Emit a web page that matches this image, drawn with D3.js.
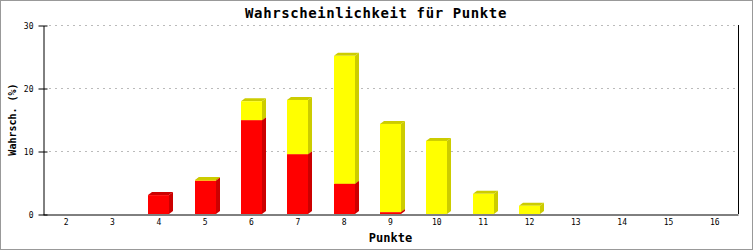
<!DOCTYPE html>
<html>
<head>
<meta charset="utf-8">
<script src="https://cdn.jsdelivr.net/npm/d3@7"></script>
<style>
  body { margin: 0; background: #fff; }
  svg { display: block; }
  text { font-family: "DejaVu Sans Mono", monospace; }
</style>
</head>
<body>
<div id="chart"></div>
<script>
// Points (x categories)
const punkte = ["2", "3", "4", "5", "6", "7", "8", "9", "10", "11", "12", "13", "14", "15", "16"];
// red series (lower part of each stack)
const rotWerte = [0, 0, 3.0, 5.3, 14.9, 9.5, 4.8, 0.3, 0, 0, 0, 0, 0, 0, 0];
// yellow series (upper part)
const gelbWerte = [0, 0, 0, 0.1, 3.0, 8.6, 20.3, 14.0, 11.6, 3.2, 1.3, 0, 0, 0, 0];
const yTicks = [0, 10, 20, 30];

const width = 753;
const height = 250;
const margin = { top: 25, right: 15, bottom: 36, left: 43 };
const depth = { dx: 4, dy: 3 };
const barWidth = 21;

const series = [
    { name: "rot", values: rotWerte, front: "#ff0000", dark: "#cc0000" },
    { name: "gelb", values: gelbWerte, front: "#ffff00", dark: "#cccc00" }
];

const svg = d3.select("#chart")
    .append("svg")
    .attr("width", width)
    .attr("height", height);

// outer frame
svg.append("rect")
    .attr("x", 0.5).attr("y", 0.5)
    .attr("width", width - 1).attr("height", height - 1)
    .attr("fill", "#fff")
    .attr("stroke", "#999");

const x = d3.scaleBand()
    .domain(punkte)
    .range([margin.left, width - margin.right]);

const y = d3.scaleLinear()
    .domain([0, 30])
    .range([height - margin.bottom, margin.top]);

// grid lines
svg.append("g")
    .selectAll("line")
    .data(yTicks.filter(d => d > 0))
    .enter()
    .append("line")
    .attr("x1", margin.left + 6)
    .attr("x2", width - margin.right - 1)
    .attr("y1", d => Math.round(y(d)) + 0.5)
    .attr("y2", d => Math.round(y(d)) + 0.5)
    .attr("stroke", "#bbb")
    .attr("stroke-dasharray", "2,4");

// stacked 3d bars
const bars = svg.append("g");
punkte.forEach((p, i) => {
    let base = 0;
    const cx = x(p) + x.bandwidth() / 2;
    const x0 = Math.round(cx - barWidth / 2);
    const x1 = x0 + barWidth;
    series.forEach(s => {
        const v = s.values[i];
        if (v <= 0) return;
        const yb = y(base);
        const yt = y(base + v);
        base += v;
        // side face
        bars.append("path")
            .attr("d", `M${x1},${yb} L${x1 + depth.dx},${yb - depth.dy} L${x1 + depth.dx},${yt - depth.dy} L${x1},${yt} Z`)
            .attr("fill", s.dark);
        // top face
        bars.append("path")
            .attr("d", `M${x0},${yt} L${x0 + depth.dx},${yt - depth.dy} L${x1 + depth.dx},${yt - depth.dy} L${x1},${yt} Z`)
            .attr("fill", s.dark);
        // front face
        bars.append("rect")
            .attr("x", x0)
            .attr("y", yt)
            .attr("width", barWidth)
            .attr("height", yb - yt)
            .attr("fill", s.front);
    });
});

// y axis
const yAxis = d3.axisLeft(y)
    .tickValues(yTicks)
    .tickSizeInner(5)
    .tickSizeOuter(0)
    .tickPadding(5);
const yg = svg.append("g")
    .attr("transform", `translate(${margin.left + 0.5},0.5)`)
    .call(yAxis);
yg.select(".domain").attr("stroke", "#000");
yg.selectAll(".tick line").attr("x2", 4).attr("x1", -5);
yg.selectAll(".tick text").attr("font-size", 8).attr("font-family", "DejaVu Sans Mono");

// x axis
const xAxis = d3.axisBottom(x)
    .tickSize(0)
    .tickPadding(5);
const xg = svg.append("g")
    .attr("transform", `translate(0,${height - margin.bottom + 0.5})`)
    .call(xAxis);
xg.select(".domain").attr("stroke", "#000");
xg.selectAll(".tick text").attr("font-size", 8).attr("font-family", "DejaVu Sans Mono");

// right border of the plot
svg.append("line")
    .attr("x1", width - margin.right + 0.5)
    .attr("x2", width - margin.right + 0.5)
    .attr("y1", margin.top)
    .attr("y2", height - margin.bottom)
    .attr("stroke", "#000");

// titles
svg.append("text")
    .attr("x", 376)
    .attr("y", 18)
    .attr("text-anchor", "middle")
    .attr("font-size", 14)
    .attr("letter-spacing", 0.6)
    .attr("font-weight", "bold")
    .text("Wahrscheinlichkeit für Punkte");

svg.append("text")
    .attr("x", (margin.left + width - margin.right) / 2)
    .attr("y", 242)
    .attr("text-anchor", "middle")
    .attr("font-size", 12)
    .attr("font-weight", "bold")
    .text("Punkte");

svg.append("text")
    .attr("transform", `translate(16,${(margin.top + height - margin.bottom) / 2}) rotate(-90)`)
    .attr("text-anchor", "middle")
    .attr("font-size", 10)
    .attr("font-weight", "bold")
    .text("Wahrsch. (%)");
</script>
</body>
</html>
